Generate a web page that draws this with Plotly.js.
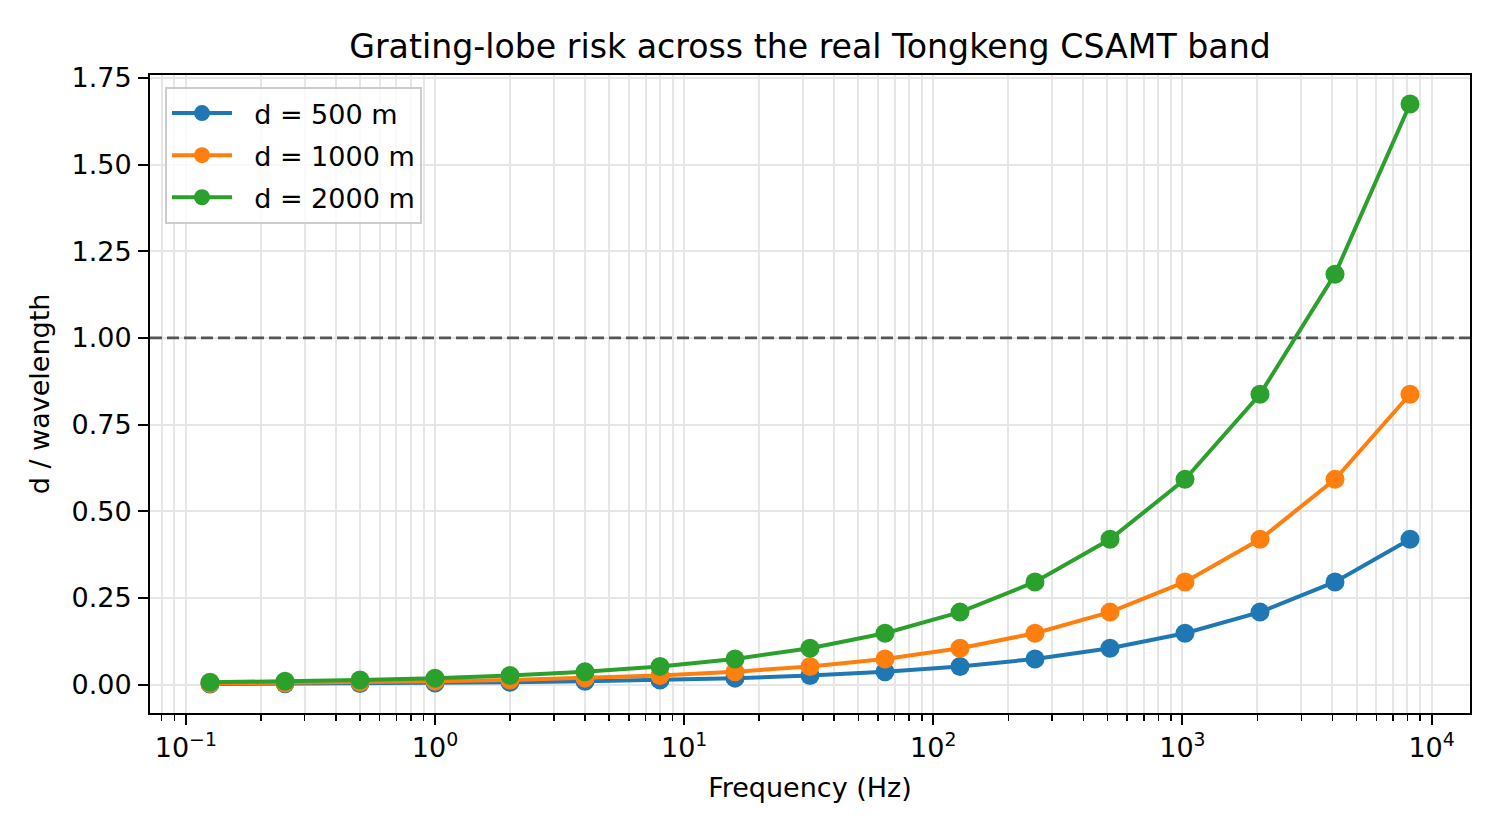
<!DOCTYPE html>
<html>
<head>
<meta charset="utf-8">
<script src="https://cdn.plot.ly/plotly-3.0.1.min.js"></script>
<style>
  html, body { margin: 0; padding: 0; background: #ffffff; }
  #chart { width: 1500px; height: 840px; }
</style>
</head>
<body>
<div id="chart"></div>
<script>
// ---- data ----
const frequencies = [0.125, 0.25, 0.5, 1, 2, 4, 8, 16, 32, 64, 128, 256, 512, 1024, 2048, 4096, 8192];
const ratio500  = [0.0016, 0.0023, 0.0033, 0.0046, 0.0065, 0.0093, 0.0131, 0.0185, 0.026, 0.037, 0.052, 0.074, 0.105, 0.148, 0.209, 0.296, 0.419];
const ratio1000 = [0.0033, 0.0046, 0.0065, 0.0093, 0.0131, 0.0185, 0.026, 0.037, 0.052, 0.074, 0.105, 0.148, 0.209, 0.296, 0.419, 0.592, 0.8375];
const ratio2000 = [0.0065, 0.0093, 0.0131, 0.0185, 0.026, 0.037, 0.052, 0.074, 0.105, 0.148, 0.209, 0.296, 0.419, 0.592, 0.8375, 1.184, 1.675];
const seriesNames = ["d = 500 m", "d = 1000 m", "d = 2000 m"];
const seriesColors = ["#1f77b4", "#ff7f0e", "#2ca02c"];
const threshold = 1.0;
const yTickVals = [0, 0.25, 0.5, 0.75, 1.0, 1.25, 1.5, 1.75];
const xTickVals = [0.1, 1, 10, 100, 1000, 10000];
const xTickText = ["10<sup>−1</sup>", "10<sup>0</sup>", "10<sup>1</sup>", "10<sup>2</sup>", "10<sup>3</sup>", "10<sup>4</sup>"];

// minor tick positions (2..9 of each decade)
const minorVals = [];
for (let e = -2; e <= 4; e++) {
  for (let m = 2; m <= 9; m++) minorVals.push(m * Math.pow(10, e));
}

// matplotlib-like 5% margins
const lx = frequencies.map(Math.log10);
const xmin = Math.min(...lx), xmax = Math.max(...lx);
const xpad = 0.05 * (xmax - xmin);
const xRange = [xmin - xpad, xmax + xpad];
const allY = ratio500.concat(ratio1000, ratio2000);
const ymin = Math.min(...allY), ymax = Math.max(...allY);
const ypad = 0.05 * (ymax - ymin);

const FONT = "DejaVu Sans, Liberation Sans, sans-serif";
const seriesData = [ratio500, ratio1000, ratio2000];

// threshold reference line spanning the full axis width (like axhline)
const thresholdTrace = {
  type: "scatter",
  mode: "lines",
  x: xRange.map(v => Math.pow(10, v)),
  y: [threshold, threshold],
  showlegend: false,
  hoverinfo: "skip",
  cliponaxis: true,
  line: { color: "#555555", width: 2.7, dash: "12px,5px" }
};

const traces = [thresholdTrace].concat(seriesData.map((vals, i) => ({
  type: "scatter",
  mode: "lines+markers",
  x: frequencies,
  y: vals,
  name: "\u00a0\u00a0" + seriesNames[i],
  legendgroup: "g" + i,
  line: { color: seriesColors[i], width: 4 },
  marker: { color: seriesColors[i], size: 19 },
  hoverinfo: "x+y+name"
})));

const gridColor = "#e6e6e6";

const layout = {
  width: 1500,
  height: 840,
  paper_bgcolor: "#ffffff",
  plot_bgcolor: "#ffffff",
  margin: { l: 150, r: 30, t: 75, b: 127, pad: 0 },
  font: { family: FONT, size: 27, color: "#000000" },
  title: {
    text: "Grating-lobe risk across the real Tongkeng CSAMT band",
    font: { family: FONT, size: 33.2, color: "#000000" },
    x: 0.5, xref: "paper", xanchor: "center",
    y: 1 - 46 / 840, yref: "container", yanchor: "middle"
  },
  xaxis: {
    type: "log",
    range: xRange,
    tickmode: "array",
    tickvals: xTickVals,
    ticktext: xTickText,
    ticks: "outside", ticklen: 10, tickwidth: 2, tickcolor: "#000000",
    showline: true, mirror: true, linecolor: "#000000", linewidth: 2,
    showgrid: true, gridcolor: gridColor, gridwidth: 2,
    zeroline: false,
    tickfont: { family: FONT, size: 27, color: "#000000" },
    minor: {
      tickmode: "array",
      tickvals: minorVals,
      ticks: "outside", ticklen: 6, tickwidth: 1.5, tickcolor: "#000000",
      showgrid: true, gridcolor: gridColor, gridwidth: 2
    },
    title: { text: "Frequency (Hz)", font: { family: FONT, size: 27, color: "#000000" }, standoff: 16 }
  },
  yaxis: {
    range: [ymin - ypad, ymax + ypad],
    tickmode: "array",
    tickvals: yTickVals,
    tickformat: ".2f",
    ticks: "outside", ticklen: 10, tickwidth: 2, tickcolor: "#000000",
    ticklabelstandoff: 1,
    showline: true, mirror: true, linecolor: "#000000", linewidth: 2,
    showgrid: true, gridcolor: gridColor, gridwidth: 2,
    zeroline: false,
    tickfont: { family: FONT, size: 27, color: "#000000" },
    title: { text: "d / wavelength", font: { family: FONT, size: 27, color: "#000000" }, standoff: 14 }
  },
  showlegend: true,
  legend: {
    x: 15 / 1320, xref: "paper", xanchor: "left",
    y: 1 - 12 / 638, yref: "paper", yanchor: "top",
    bgcolor: "rgba(255,255,255,0.8)",
    bordercolor: "#cccccc", borderwidth: 2,
    font: { family: FONT, size: 27, color: "#000000" },
    traceorder: "grouped",
    tracegroupgap: 4,
    itemwidth: 60
  }
};

Plotly.newPlot("chart", traces, layout, { displayModeBar: false, staticPlot: true });
</script>
</body>
</html>
